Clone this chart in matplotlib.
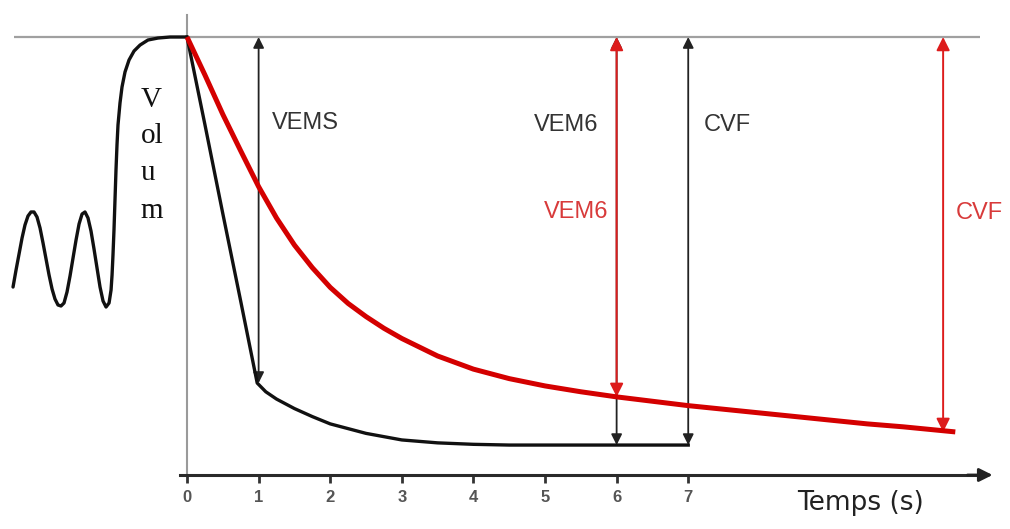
import numpy as np
import matplotlib
matplotlib.use("Agg")
from matplotlib import pyplot as plt

# === data (time in s, volume in arbitrary units, top plateau = 6) ===
breath_t = [-2.430, -2.388, -2.346, -2.304, -2.263, -2.221, -2.179, -2.137, -2.095, -2.053,
            -2.011, -1.969, -1.927, -1.885, -1.844, -1.802, -1.760, -1.718, -1.676, -1.634,
            -1.592, -1.550, -1.508, -1.466, -1.425, -1.383, -1.341, -1.299, -1.257, -1.215,
            -1.173, -1.131, -1.089, -1.061, -1.047, -1.034, -1.020, -1.006, -0.992, -0.978,
            -0.964, -0.936, -0.908, -0.866, -0.810, -0.740, -0.656, -0.545, -0.405, -0.237,
            0.0]
breath_v = [2.575, 2.808, 3.027, 3.247, 3.425, 3.548, 3.603, 3.603, 3.534, 3.384,
            3.178, 2.959, 2.740, 2.548, 2.411, 2.329, 2.315, 2.356, 2.507, 2.726,
            2.973, 3.219, 3.438, 3.575, 3.603, 3.521, 3.342, 3.096, 2.836, 2.575,
            2.384, 2.301, 2.356, 2.534, 2.740, 3.014, 3.356, 3.767, 4.178, 4.521,
            4.795, 5.096, 5.315, 5.521, 5.685, 5.808, 5.890, 5.959, 5.986, 6.000,
            6.000]

normal_t = [0.0, 0.25, 0.5, 0.75, 0.98, 1.1, 1.25, 1.5, 1.75, 2.0, 2.5, 3.0, 3.5, 4.0, 4.5, 5.0, 7.0]
normal_v = [6.0, 4.80, 3.58, 2.38, 1.26, 1.14, 1.04, 0.91, 0.80, 0.70, 0.57, 0.48, 0.44, 0.42, 0.41, 0.41, 0.41]

obstr_t = [0.0, 0.25, 0.5, 0.75, 1.0, 1.25, 1.5, 1.75, 2.0, 2.25, 2.5, 2.75, 3.0, 3.5,
           4.0, 4.5, 5.0, 5.5, 6.0, 6.5, 7.0, 7.5, 8.0, 8.5, 9.0, 9.5, 10.0, 10.73]
obstr_v = [6.0, 5.48, 4.94, 4.44, 3.95, 3.52, 3.15, 2.84, 2.57, 2.35, 2.17, 2.01, 1.87, 1.63,
           1.45, 1.32, 1.22, 1.14, 1.07, 1.01, 0.95, 0.90, 0.85, 0.80, 0.75, 0.70, 0.66, 0.59]

top_v = 6.0
ticks = [0, 1, 2, 3, 4, 5, 6, 7]

# double arrows: (x, bottom value)
black_arrows = [(1.0, 1.26), (6.0, 0.41), (7.0, 0.41)]
red_arrows = [(6.0, 1.07), (10.56, 0.59)]

labels = [("VEMS", 1.19, 4.82, "left", "#333333"),
          ("VEM6", 5.74, 4.80, "right", "#333333"),
          ("CVF", 7.21, 4.80, "left", "#333333"),
          ("VEM6", 5.88, 3.60, "right", "#d83a3a"),
          ("CVF", 10.73, 3.59, "left", "#d83a3a")]

ylabel_lines = ["V", "ol", "u", "m"]
ylabel_base = [5.04, 4.55, 4.04, 3.52]

# === figure ===
fig = plt.figure(figsize=(10.10, 5.29), dpi=100)
ax = fig.add_axes([0, 0, 1, 1])
ax.set_xlim(-2.612, 11.494)
ax.set_ylim(-0.740, 6.507)

for s in ["top", "right"]:
    ax.spines[s].set_visible(False)
ax.spines["left"].set_position(("data", 0))
ax.spines["left"].set_bounds(0, 6.3)
ax.spines["left"].set_color("#9a9a9a")
ax.spines["left"].set_linewidth(1.5)
ax.spines["bottom"].set_position(("data", 0))
ax.spines["bottom"].set_bounds(-0.1, 11.0)
ax.spines["bottom"].set_color("#2a2a2a")
ax.spines["bottom"].set_linewidth(2.2)
ax.set_yticks([])
ax.set_xticks(ticks)
ax.set_xticklabels([str(t) for t in ticks], fontsize=12, color="#555555",
                   fontweight="bold", family="Liberation Sans")
ax.tick_params(axis="x", direction="out", length=6, width=2, color="#333333", pad=5)
ax.annotate("", xy=(11.25, 0), xytext=(10.9, 0),
            arrowprops=dict(arrowstyle="-|>", color="#222222", lw=2, mutation_scale=20,
                            shrinkA=0, shrinkB=0))

# top plateau line
ax.hlines(top_v, -2.416, 11.075, color="#a0a0a0", lw=1.6, zorder=1)

# arrows
for x, lo in black_arrows:
    ax.annotate("", xy=(x, lo), xytext=(x, top_v),
                arrowprops=dict(arrowstyle="<|-|>", color="#222222", lw=1.3,
                                mutation_scale=16, shrinkA=0, shrinkB=0), zorder=2)
for x, lo in red_arrows:
    ax.annotate("", xy=(x, lo), xytext=(x, top_v),
                arrowprops=dict(arrowstyle="<|-|>", color="#dd1c1c", lw=1.4,
                                mutation_scale=20, shrinkA=0, shrinkB=0), zorder=4)

# curves
ax.plot(breath_t, breath_v, color="#111111", lw=2.4, solid_capstyle="round",
        solid_joinstyle="round", zorder=3)
ax.plot(normal_t, normal_v, color="#111111", lw=2.4, solid_joinstyle="round", zorder=3)
ax.plot(obstr_t, obstr_v, color="#d40000", lw=3.6, solid_capstyle="butt",
        solid_joinstyle="round", zorder=5)

for txt, x, y, ha, c in labels:
    ax.text(x, y, txt, ha=ha, va="center", fontsize=17, color=c, family="Liberation Sans")

for line, y in zip(ylabel_lines, ylabel_base):
    ax.text(-0.645, y, line, ha="left", va="baseline", fontsize=21,
            family="Liberation Serif", color="#111111")

ax.text(9.40, -0.38, "Temps (s)", ha="center", va="center", fontsize=19, color="#222222")

fig.savefig("out.png", dpi=100)
